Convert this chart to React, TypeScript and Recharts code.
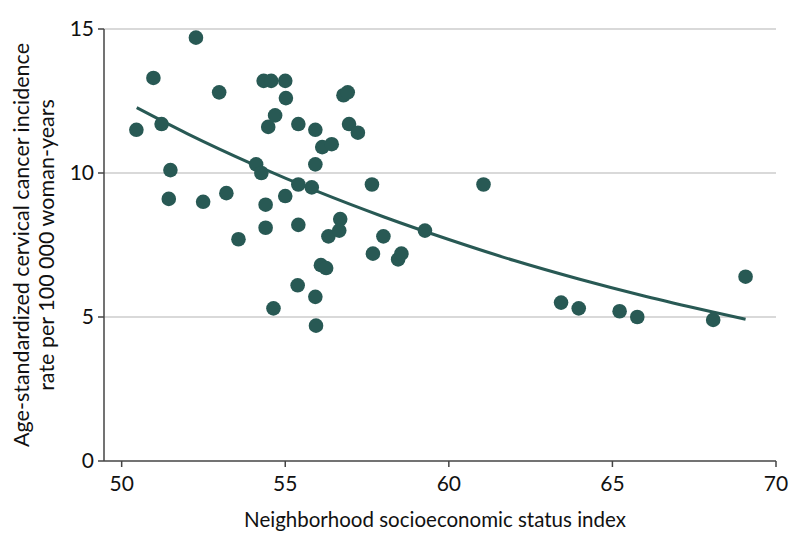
import React from 'react'
import { ComposedChart, Scatter, Line, XAxis, YAxis, CartesianGrid } from 'recharts'

// neighborhood SES index (x) and incidence rate (y) for each area
const sesIndex = [
    50.45, 50.97, 52.27, 51.22, 51.49, 51.44, 52.49, 52.98, 53.2, 53.57,
    54.11, 54.27, 54.4, 54.4, 54.34, 54.57, 54.48, 54.69, 55.0, 55.02,
    55.0, 55.4, 55.4, 55.4, 55.81, 55.92, 55.92, 56.13, 56.42, 56.32,
    56.68, 56.65, 56.78, 56.91, 56.95, 57.22, 57.65, 58.0, 57.68, 58.45,
    58.55, 59.27, 61.06, 69.07, 56.09, 56.25, 55.38, 55.92, 54.64, 55.94,
    63.43, 63.97, 65.22, 65.76, 68.08,
]
const incidence = [
    11.5, 13.3, 14.7, 11.7, 10.1, 9.1, 9.0, 12.8, 9.3, 7.7,
    10.3, 10.0, 8.9, 8.1, 13.2, 13.2, 11.6, 12.0, 13.2, 12.6,
    9.2, 11.7, 9.6, 8.2, 9.5, 11.5, 10.3, 10.9, 11.0, 7.8,
    8.4, 8.0, 12.7, 12.8, 11.7, 11.4, 9.6, 7.8, 7.2, 7.0,
    7.2, 8.0, 9.6, 6.4, 6.8, 6.7, 6.1, 5.7, 5.3, 4.7,
    5.5, 5.3, 5.2, 5.0, 4.9,
]

// fitted curve
const fitX = [50.46, 52, 54, 56, 58, 60, 62, 64, 66, 68, 69.07]
const fitY = [12.27, 11.37, 10.31, 9.35, 8.48, 7.69, 6.96, 6.31, 5.72, 5.19, 4.92]

const xTicks = [50, 55, 60, 65, 70]
const yTicks = [0, 5, 10, 15]

const COLOR = '#285954'
const FONT = 'Lato, "DejaVu Sans", sans-serif'

const points = sesIndex.map((x, i) => ({ x, y: incidence[i] }))
const fitData = fitX.map((x, i) => ({ x, y: fitY[i] }))

const Dot = (props: any) => {
    const { cx, cy } = props
    if (cx == null || cy == null) return null
    return <circle cx={cx} cy={cy} r={7.3} fill={COLOR} />
}

const YLabel = (props: any) => {
    const vb = props.viewBox || { x: 0, y: 0, width: 0, height: 0 }
    const cy = vb.y + vb.height / 2
    const x1 = 21
    const x2 = 46
    return (
        <g fontFamily={FONT} fontSize={21.5} fill="#111">
            <text x={x1} y={cy} textAnchor="middle" dominantBaseline="central" transform={`rotate(-90 ${x1} ${cy})`}>
                Age-standardized cervical cancer incidence
            </text>
            <text x={x2} y={cy} textAnchor="middle" dominantBaseline="central" transform={`rotate(-90 ${x2} ${cy})`}>
                rate per 100 000 woman-years
            </text>
        </g>
    )
}

const App: React.FC = () => {
    return (
        <div style={{ position: 'absolute', left: 0, top: 0, width: 794, height: 546 }}>
            <ComposedChart
                width={794}
                height={546}
                margin={{ top: 29, right: 18, left: 44, bottom: 25 }}
            >
                <CartesianGrid vertical={false} stroke="#d9d9d9" strokeWidth={2} horizontalValues={[5, 10, 15]} />
                <XAxis
                    dataKey="x"
                    type="number"
                    domain={[49.46, 70]}
                    ticks={xTicks}
                    allowDataOverflow
                    height={60}
                    tickSize={6}
                    tickMargin={9}
                    stroke="#444"
                    strokeWidth={1.5}
                    tick={{ fill: '#111', fontSize: 21, fontFamily: FONT }}
                    label={{ value: 'Neighborhood socioeconomic status index', position: 'insideBottom', offset: -6, dx: -5, fill: '#111', fontSize: 20.5, fontFamily: FONT }}
                />
                <YAxis
                    dataKey="y"
                    type="number"
                    domain={[0, 15]}
                    ticks={yTicks}
                    allowDataOverflow
                    width={60}
                    tickSize={6}
                    tickMargin={4}
                    stroke="#444"
                    strokeWidth={1.5}
                    tick={{ fill: '#111', fontSize: 21, fontFamily: FONT }}
                    label={<YLabel />}
                />
                <Scatter data={points} dataKey="y" fill={COLOR} shape={<Dot />} isAnimationActive={false} />
                <Line data={fitData} dataKey="y" type="monotone" stroke={COLOR} strokeWidth={3} dot={false} activeDot={false} isAnimationActive={false} />
            </ComposedChart>
        </div>
    )
}

export default App
